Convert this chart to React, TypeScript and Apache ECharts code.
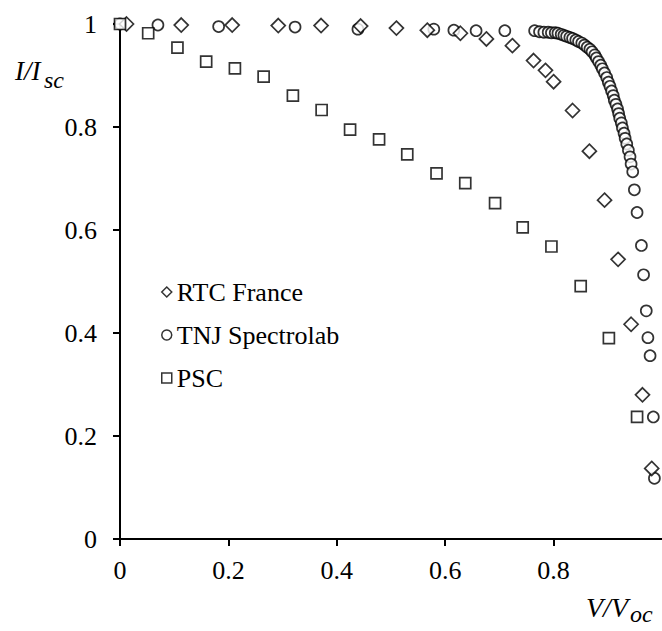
import React, { useEffect, useRef } from "react";
import * as echarts from "echarts";

const FONT = "Liberation Serif";

const legendNames = ["RTC France", "TNJ Spectrolab", "PSC"];

// RTC France (diamonds)
const rtcV = [0.012, 0.113, 0.207, 0.292, 0.371, 0.444, 0.51, 0.567, 0.628, 0.676, 0.724, 0.763, 0.785, 0.8, 0.835, 0.866, 0.894, 0.919, 0.943, 0.964, 0.981];
const rtcI = [1.0, 0.998, 0.998, 0.997, 0.997, 0.996, 0.992, 0.988, 0.982, 0.971, 0.958, 0.929, 0.91, 0.888, 0.832, 0.753, 0.658, 0.543, 0.417, 0.28, 0.137];

// TNJ Spectrolab (circles)
const tnjV = [0, 0.07, 0.182, 0.323, 0.439, 0.579, 0.616, 0.657, 0.71, 0.765, 0.774, 0.782, 0.79, 0.796, 0.803, 0.808, 0.814, 0.819, 0.824, 0.83, 0.835, 0.841, 0.846, 0.852, 0.857, 0.862, 0.867, 0.871, 0.876, 0.879, 0.883, 0.887, 0.89, 0.894, 0.898, 0.901, 0.904, 0.907, 0.91, 0.912, 0.915, 0.918, 0.92, 0.922, 0.925, 0.927, 0.93, 0.932, 0.935, 0.938, 0.941, 0.943, 0.946, 0.949, 0.954, 0.962, 0.966, 0.971, 0.974, 0.978, 0.984, 0.986];
const tnjI = [1.0, 0.998, 0.995, 0.994, 0.99, 0.99, 0.988, 0.987, 0.987, 0.987, 0.985, 0.984, 0.984, 0.983, 0.983, 0.982, 0.98, 0.978, 0.976, 0.974, 0.972, 0.969, 0.966, 0.963, 0.959, 0.955, 0.951, 0.946, 0.94, 0.934, 0.927, 0.92, 0.913, 0.905, 0.896, 0.887, 0.879, 0.87, 0.861, 0.852, 0.844, 0.835, 0.826, 0.817, 0.808, 0.798, 0.788, 0.778, 0.767, 0.755, 0.742, 0.728, 0.713, 0.678, 0.634, 0.57, 0.513, 0.443, 0.391, 0.356, 0.237, 0.118];

// PSC (squares)
const pscV = [0, 0.052, 0.106, 0.159, 0.212, 0.265, 0.319, 0.372, 0.4245, 0.478, 0.53, 0.584, 0.637, 0.692, 0.743, 0.796, 0.85, 0.902, 0.954];
const pscI = [1.0, 0.982, 0.954, 0.927, 0.914, 0.898, 0.861, 0.833, 0.795, 0.776, 0.747, 0.71, 0.691, 0.652, 0.605, 0.568, 0.491, 0.39, 0.237];

const zip = (a: number[], b: number[]) => a.map((v, k) => [v, b[k]]);

const markerStyle = { color: "#ffffff", borderColor: "#000000", borderWidth: 1.7 };

export default function App() {
  const ref = useRef<HTMLDivElement>(null);
  useEffect(() => {
    if (!ref.current) return;
    const chart = echarts.init(ref.current, undefined, { renderer: "svg" });
    const axisLine = { show: true, onZero: false, lineStyle: { color: "#000", width: 2 } };
    const axisTick = { show: true, length: 7, lineStyle: { color: "#000", width: 2 } };
    const labelStyle = { color: "#000", fontSize: 26, fontFamily: FONT };
    chart.setOption({
      animation: false,
      backgroundColor: "#ffffff",
      textStyle: { fontFamily: FONT },
      grid: { left: 120, top: 24, width: 547, height: 515 },
      xAxis: [
        {
          type: "value",
          min: 0,
          max: 1,
          interval: 0.2,
          axisLine,
          axisTick,
          axisLabel: { ...labelStyle, margin: 18, showMaxLabel: false },
          splitLine: { show: false },
        },
        {
          type: "value",
          position: "top",
          min: 0,
          max: 1,
          interval: 0.2,
          axisLine: { show: true, lineStyle: { color: "#000", width: 2 } },
          axisTick: { show: false },
          axisLabel: { show: false },
          splitLine: { show: false },
        },
      ],
      yAxis: {
        type: "value",
        min: 0,
        max: 1,
        interval: 0.2,
        axisLine,
        axisTick,
        axisLabel: { ...labelStyle, margin: 23 },
        splitLine: { show: false },
      },
      legend: {
        orient: "vertical",
        left: 161,
        top: 279,
        padding: 0,
        itemWidth: 10,
        itemHeight: 10,
        itemGap: 17,
        data: legendNames,
        textStyle: { color: "#000", fontSize: 26, fontFamily: FONT, lineHeight: 26 },
        itemStyle: { borderWidth: 1.5 },
      },
      series: [
        { name: legendNames[1], type: "scatter", symbol: "circle", symbolSize: 11, itemStyle: markerStyle, data: zip(tnjV, tnjI) },
        { name: legendNames[0], type: "scatter", symbol: "diamond", symbolSize: 14, itemStyle: markerStyle, data: zip(rtcV, rtcI) },
        { name: legendNames[2], type: "scatter", symbol: "rect", symbolSize: 11, itemStyle: markerStyle, data: zip(pscV, pscI) },
      ],
      graphic: [
        { type: "text", left: 15, top: 57, style: { text: "I/I", fontSize: 27, fontStyle: "italic", fontFamily: FONT, fill: "#000" } },
        { type: "text", left: 44, top: 68, style: { text: "sc", fontSize: 24, fontStyle: "italic", fontFamily: FONT, fill: "#000" } },
        { type: "text", left: 586, top: 593, style: { text: "V/V", fontSize: 28, fontStyle: "italic", fontFamily: FONT, fill: "#000" } },
        { type: "text", left: 630, top: 602, style: { text: "oc", fontSize: 24, fontStyle: "italic", fontFamily: FONT, fill: "#000" } },
      ],
    });
    return () => chart.dispose();
  }, []);
  return <div ref={ref} style={{ position: "absolute", left: 0, top: 0, width: 662, height: 631 }} />;
}
